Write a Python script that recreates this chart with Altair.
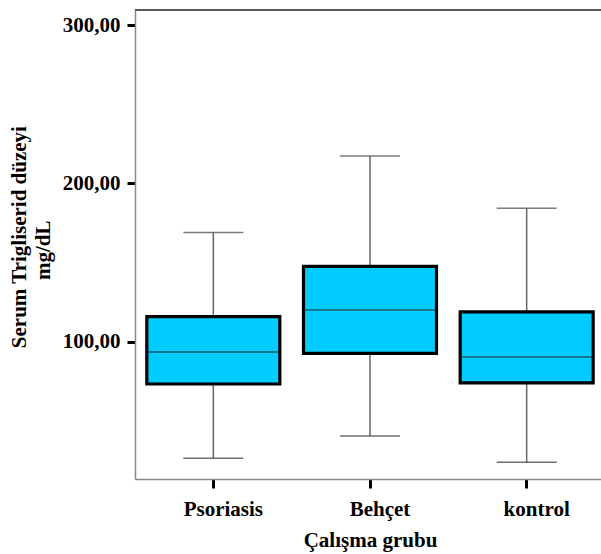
import altair as alt
import pandas as pd

groups = ["Psoriasis", "Behçet", "kontrol"]
lower = [26.4, 40.4, 23.8]
q1 = [73.3, 92.6, 74.0]
median = [93.5, 120.0, 90.3]
q3 = [115.9, 147.6, 118.9]
upper = [168.9, 217.3, 184.3]
y_ticks = [100, 200, 300]

df = pd.DataFrame({"grup": groups, "lower": lower, "q1": q1,
                   "median": median, "q3": q3, "upper": upper})

FONT = "Liberation Serif"
NB = "\u00a0"
ZW = "\u200b"

x = alt.X("grup:N", sort=groups,
          scale=alt.Scale(range=[0, 470], paddingInner=0, paddingOuter=0),
          axis=alt.Axis(title="Çalışma grubu", labelAngle=0, labelOffset=10,
                        labelFont=FONT, labelFontSize=21, labelFontWeight="bold",
                        labelColor="black", labelPadding=10,
                        titleFont=FONT, titleFontSize=21, titleFontWeight="bold",
                        titleColor="black", titlePadding=10,
                        tickColor="black", tickWidth=3, tickSize=9,
                        domainColor="#888", domainWidth=1.5))

yscale = alt.Scale(domain=[13.3, 309.5], nice=False, zero=False)
yaxis = alt.Axis(values=y_ticks,
                 labelExpr="replace(format(datum.value, '.2f'), '.', ',')",
                 title=[ZW + NB * 3 + "Serum Trigliserid düzeyi",
                        "mg/dL" + NB * 2 + ZW],
                 labelFont=FONT, labelFontSize=21, labelFontWeight="bold",
                 labelColor="black", labelPadding=7,
                 titleFont=FONT, titleFontSize=21, titleFontWeight="bold",
                 titleColor="black", titlePadding=9, titleLineHeight=24,
                 tickColor="black", tickWidth=3, tickSize=8,
                 domainColor="#888", domainWidth=1.5, grid=False)

base = alt.Chart(df)

whisker = base.mark_rule(color="#666", strokeWidth=1.5).encode(
    x=x, y=alt.Y("lower:Q", scale=yscale, axis=yaxis), y2="upper:Q")

box = base.mark_bar(size=133, color="#00CCFF", stroke="black",
                    strokeWidth=3.2).encode(x=x, y=alt.Y("q1:Q", scale=yscale), y2="q3:Q")

med = base.mark_tick(size=133, thickness=1.5, color="#2a2a2a").encode(
    x=x, y=alt.Y("median:Q", scale=yscale))

cap_lo = base.mark_tick(size=60, thickness=1.5, color="#333").encode(
    x=x, y=alt.Y("lower:Q", scale=yscale))
cap_hi = base.mark_tick(size=60, thickness=1.5, color="#444").encode(
    x=x, y=alt.Y("upper:Q", scale=yscale))

top = alt.Chart(df).mark_rule(color="#555", strokeWidth=1.5).encode(y=alt.value(0))

chart = alt.layer(whisker, box, med, cap_lo, cap_hi, top).properties(
    width=466, height=469,
    autosize=alt.AutoSizeParams(type="none"),
    padding={"left": 135, "top": 10, "right": 0, "bottom": 75},
    background="white",
).configure_view(stroke=None)

chart.save("out.html", embed_options={"renderer": "svg", "actions": False})
